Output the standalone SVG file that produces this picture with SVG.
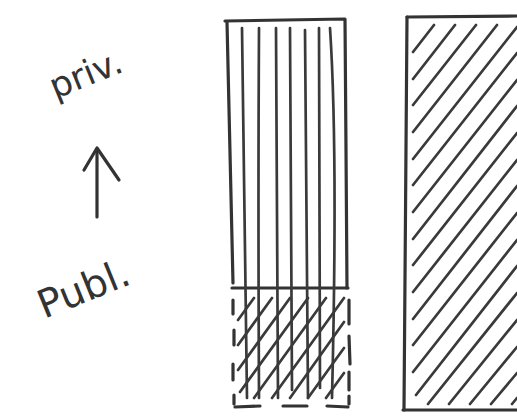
<svg xmlns="http://www.w3.org/2000/svg" width="517" height="418" viewBox="0 0 517 418">
<style>
.s{fill:none;stroke:#333;stroke-width:3.2;stroke-linecap:round;stroke-linejoin:round}
.h{fill:none;stroke:#3a3a3a;stroke-width:2.7;stroke-linecap:round}
.t{font-family:"DejaVu Sans",sans-serif;fill:#333}
</style>
<rect width="517" height="418" fill="#fff"/>
<g id="label-priv"><text class="t" font-size="35" x="86" y="86" text-anchor="middle" transform="rotate(-22 86 75)">priv.</text></g>
<g id="label-publ"><text class="t" font-size="39" x="84" y="302" text-anchor="middle" transform="rotate(-22 84 290)">Publ.</text></g>
<g id="connectors">
<path class="s" d="M97 217 L97 149"/>
<path class="s" d="M84 170 L97 148 L119 180"/>
</g>
<g id="left-column">
<path class="s" d="M225 21 L345 19 L346 150 L347 288"/>
<path class="s" d="M227 22 Q230 150 233 283"/>
<path class="s" d="M232 288 L348 288"/>
<path class="h" d="M242 28 Q244 200 247 398"/>
<path class="h" d="M259 28 Q258 200 259 398"/>
<path class="h" d="M276 28 Q277 200 278 398"/>
<path class="h" d="M290 28 Q291 200 292 390"/>
<path class="h" d="M305 30 Q306 200 308 398"/>
<path class="h" d="M319 28 Q319 200 320 388"/>
<path class="h" d="M330 28 Q338 150 332 398"/>
<path class="h" d="M238 320 L254 298 M238 345 L272 298 M238 370 L290 298 M240 392 L308 298 M254 398 L326 298 M272 398 L344 298 M290 398 L344 322 M308 398 L344 348 M326 398 L344 373"/>
<path class="s" d="M233 300 L233 314 M234 330 L234 345 M233 364 L233 380 M234 395 L234 404 M349 300 L349 324 M349 336 L350 364 M349 372 L349 390 M349 396 L349 404 M235 407 L260 406 M283 406 L307 406 M327 406 L348 407"/>
</g>
<g id="right-column">
<path class="s" d="M407 17 L517 16"/>
<path class="s" d="M407 17 Q406 200 404 410"/>
<path class="s" d="M403 410 L517 410"/>
<path class="h" d="M413 52 L434 25 M413 79 L455 25 M413 105 L476 25 M413 132 L497 25 M413 159 L517 27 M413 185 L517 53 M413 212 L517 80 M413 239 L517 106 M413 265 L517 133 M413 292 L517 160 M413 319 L517 186 M413 345 L517 213 M413 372 L517 240 M416 395 L517 266 M428 404 L517 293 M449 404 L517 320 M470 404 L517 347 M491 404 L517 373 M512 404 L517 398"/>
</g>
</svg>
